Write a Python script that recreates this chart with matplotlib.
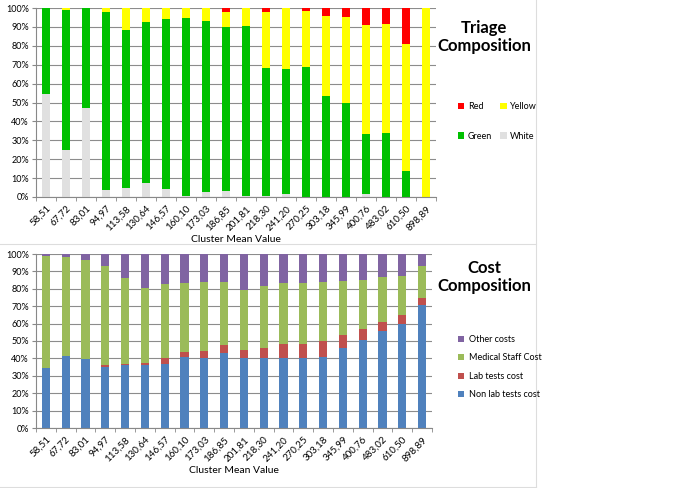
import numpy as np
import matplotlib
matplotlib.use('Agg')
import matplotlib.pyplot as plt
from matplotlib.lines import Line2D
from matplotlib.ticker import FuncFormatter

plt.rcParams['font.family'] = ['Lato', 'DejaVu Sans']

# Cluster mean values (category labels)
clusters = ['58,51', '67,72', '83,01', '94,97', '113,58', '130,64', '146,57', '160,10',
            '173,03', '186,85', '201,81', '218,30', '241,20', '270,25', '303,18', '345,99',
            '400,76', '483,02', '610,50', '898,89']

# Triage composition (%)
white = [54.5, 25.0, 47.0, 3.5, 4.5, 7.2, 4.0, 0.3, 2.5, 3.3,
         0.5, 0.3, 1.5, 0.2, 0.0, 0.0, 1.5, 0.0, 0.0, 0.0]
green = [45.5, 73.7, 53.0, 94.5, 84.0, 85.3, 90.0, 94.2, 90.5, 86.5,
         90.0, 68.2, 66.0, 68.8, 53.5, 50.0, 32.0, 34.0, 14.0, 0.0]
yellow = [0.0, 1.3, 0.0, 2.0, 11.5, 7.5, 6.0, 5.5, 7.0, 8.2,
          9.5, 29.5, 32.5, 29.6, 42.3, 45.0, 57.7, 57.5, 67.0, 100.0]
red = [0.0, 0.0, 0.0, 0.0, 0.0, 0.0, 0.0, 0.0, 0.0, 2.0,
       0.0, 2.0, 0.0, 1.4, 4.2, 5.0, 8.8, 8.5, 19.0, 0.0]

# Cost composition (%)
non_lab = [34.5, 41.5, 39.5, 35.3, 36.0, 36.0, 37.0, 41.0, 40.0, 43.0,
           40.0, 40.5, 40.0, 40.0, 41.0, 46.0, 50.5, 55.5, 60.0, 70.5]
lab = [0.0, 0.0, 0.0, 0.8, 1.0, 1.3, 3.5, 2.5, 4.5, 4.5,
       5.0, 5.5, 8.0, 8.5, 9.0, 7.5, 6.5, 5.5, 5.0, 4.0]
staff = [64.3, 57.0, 57.0, 56.9, 49.0, 43.2, 42.5, 40.0, 39.5, 36.5,
         34.5, 35.5, 35.5, 35.0, 34.0, 31.0, 28.0, 25.5, 22.5, 18.5]
other = [1.2, 1.5, 3.5, 7.0, 14.0, 19.5, 17.0, 16.5, 16.0, 16.0,
         20.5, 18.5, 16.5, 16.5, 16.0, 15.5, 15.0, 13.5, 12.5, 7.0]

fig = plt.figure(figsize=(6.85, 4.88), dpi=100)
W, H = 685, 488


def make_axes(left, top, right, bottom):
    return fig.add_axes([left / W, 1 - bottom / H, (right - left) / W, (bottom - top) / H])


def style_axes(ax):
    x = np.arange(len(clusters))
    ax.set_xlim(-0.5, len(clusters) - 0.5)
    ax.set_ylim(0, 100)
    ax.set_yticks(np.arange(0, 101, 10))
    ax.yaxis.set_major_formatter(FuncFormatter(lambda v, p: f'{int(v)}%'))
    ax.set_xticks(x)
    ax.set_xticklabels(clusters, rotation=45, ha='right', rotation_mode='anchor', fontsize=7)
    ax.set_xticks(np.arange(-0.5, len(clusters), 1), minor=True)
    ax.tick_params(axis='x', which='major', length=0, pad=5)
    ax.tick_params(axis='x', which='minor', length=3, color='#888888')
    ax.tick_params(axis='y', length=3, color='#888888', labelsize=6.5, pad=2)
    ax.grid(axis='y', color='#8c8c8c', linewidth=0.8)
    ax.set_axisbelow(True)
    for s in ['top', 'right']:
        ax.spines[s].set_visible(False)
    ax.spines['left'].set_color('#888888')
    ax.spines['bottom'].set_color('#888888')
    ax.set_xlabel('Cluster Mean Value', fontsize=7.5, labelpad=2)


x = np.arange(len(clusters))
bw = 0.42

# ---------------- Triage ----------------
ax1 = make_axes(36, 8, 436, 197)
b = np.zeros(len(clusters))
h_white = ax1.bar(x, white, bw, bottom=b, color='#e0e0e0', label='White'); b += white
h_green = ax1.bar(x, green, bw, bottom=b, color='#00c000', label='Green'); b += green
h_yellow = ax1.bar(x, yellow, bw, bottom=b, color='#ffff00', label='Yellow'); b += yellow
h_red = ax1.bar(x, red, bw, bottom=b, color='#ff0000', label='Red')
style_axes(ax1)
fig.text(484 / W, 1 - 37 / H, 'Triage\nComposition', ha='center', va='center',
         fontsize=12, fontweight='bold', linespacing=1.15)
fig.legend([h_red, h_green, h_yellow, h_white], ['Red', 'Green', 'Yellow', 'White'],
           ncol=2, loc='upper left', bbox_to_anchor=(458 / W, 1 - 102 / H), frameon=False,
           fontsize=6.5, handlelength=0.7, handleheight=0.7, columnspacing=0.9,
           labelspacing=2.3, handletextpad=0.4, borderaxespad=0, borderpad=0)

# ---------------- Cost ----------------
ax2 = make_axes(36, 254, 432, 428)
b = np.zeros(len(clusters))
h_nl = ax2.bar(x, non_lab, bw, bottom=b, color='#4f81bd'); b += non_lab
h_lab = ax2.bar(x, lab, bw, bottom=b, color='#c0504d'); b += lab
h_st = ax2.bar(x, staff, bw, bottom=b, color='#9bbb59'); b += staff
h_ot = ax2.bar(x, other, bw, bottom=b, color='#8064a2')
style_axes(ax2)
fig.text(484 / W, 1 - 277 / H, 'Cost\nComposition', ha='center', va='center',
         fontsize=12, fontweight='bold', linespacing=1.15)
fig.legend([h_ot, h_st, h_lab, h_nl],
           ['Other costs', 'Medical Staff Cost', 'Lab tests cost', 'Non lab tests cost'],
           loc='upper left', bbox_to_anchor=(458 / W, 1 - 335 / H), frameon=False,
           fontsize=6.5, handlelength=0.7, handleheight=0.7, labelspacing=1.05,
           handletextpad=0.5, borderaxespad=0, borderpad=0)

# panel borders
border = '#dddddd'
fig.add_artist(Line2D([536 / W, 536 / W], [0, 1], color=border, lw=0.8))
fig.add_artist(Line2D([0, 536 / W], [1 - 244 / H, 1 - 244 / H], color=border, lw=0.8))
fig.add_artist(Line2D([0, 536 / W], [1 - 487 / H, 1 - 487 / H], color=border, lw=0.8))

fig.savefig('out.png', dpi=100)
